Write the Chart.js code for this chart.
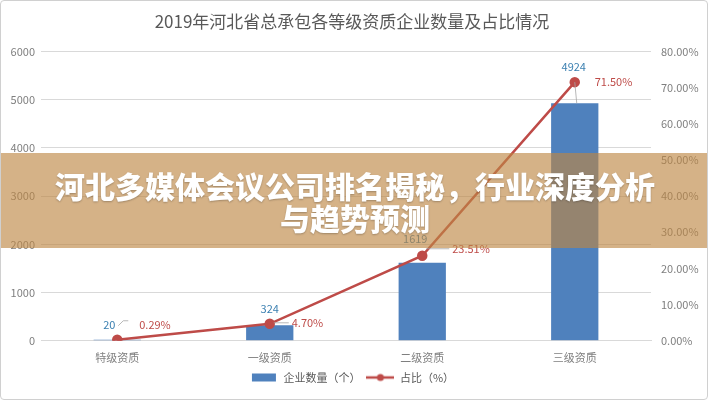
<!DOCTYPE html>
<html>
<head>
<meta charset="utf-8">
<script src="https://cdn.jsdelivr.net/npm/chart.js@4"></script>
<style>
  html, body { margin: 0; padding: 0; background: #fff; }
  #wrap { position: relative; width: 708px; height: 400px; box-sizing: border-box; border: 1px solid #d0d0d0; border-radius: 4px; overflow: hidden; }
  #banner { position: absolute; left: 0; top: 152px; width: 708px; height: 95px; background: rgba(190, 135, 68, 0.64);
    display: flex; align-items: center; justify-content: center; text-align: center;
    color: #fff; font-family: "Noto Sans CJK SC", sans-serif; font-weight: 900; font-size: 30px; line-height: 32px;
    text-shadow: 0 1px 2px rgba(0,0,0,0.25); }
</style>
</head>
<body>
<div id="wrap">
  <canvas id="chart" width="706" height="398"></canvas>
  <div id="banner">河北多媒体会议公司排名揭秘，行业深度分析<br>与趋势预测</div>
</div>
<script>
const categories = ['特级资质', '一级资质', '二级资质', '三级资质'];
const companyCounts = [20, 324, 1619, 4924];
const sharePercent = [0.29, 4.70, 23.51, 71.50];

const barColor = '#4f81bd';
const lineColor = '#be4b48';
const cjk = '"Noto Sans CJK SC", sans-serif';

// little legend icons
function legendIcon(kind) {
    const c = document.createElement('canvas');
    c.width = 28; c.height = 10;
    const g = c.getContext('2d');
    if (kind === 'bar') {
        g.fillStyle = barColor;
        g.fillRect(2, 1, 24, 8);
    } else {
        g.strokeStyle = lineColor;
        g.lineWidth = 2.5;
        g.beginPath(); g.moveTo(0, 5); g.lineTo(28, 5); g.stroke();
        g.fillStyle = lineColor;
        g.beginPath(); g.arc(14, 5, 3.5, 0, Math.PI * 2); g.fill();
    }
    return c;
}

// value labels with small leader lines
const labelPlugin = {
    id: 'labels',
    afterDatasetsDraw(chart) {
        const ctx = chart.ctx;
        const bars = chart.getDatasetMeta(1).data;
        const pts = chart.getDatasetMeta(0).data;
        ctx.save();
        ctx.font = '11px ' + cjk;
        ctx.textBaseline = 'middle';
        const barOff = [[-8, -15], [0, -15], [-7, -17], [-1, -15]];
        const lineOff = [[22, -15], [22, -1], [30, -7], [20, 0]];
        bars.forEach((b, i) => {
            const p = pts[i];
            // count label
            ctx.fillStyle = '#3a7fb0';
            ctx.textAlign = 'center';
            const bx = p.x + barOff[i][0];
            const by = Math.min(b.y, p.y) + barOff[i][1];
            ctx.fillText(String(companyCounts[i]), bx, by);
            // share label
            ctx.fillStyle = '#be4b48';
            ctx.textAlign = 'left';
            const lx = p.x + lineOff[i][0];
            const ly = p.y + lineOff[i][1];
            ctx.fillText(sharePercent[i].toFixed(2) + '%', lx, ly);
            ctx.strokeStyle = '#a6a6a6';
            ctx.lineWidth = 0.8;
            ctx.beginPath();
            if (i === 0) {
                ctx.moveTo(bx + 9, by + 1); ctx.lineTo(bx + 14, by - 4); ctx.lineTo(bx + 19, by - 4);
            } else if (i === 3) {
                ctx.moveTo(p.x, p.y); ctx.lineTo(p.x + 2, b.y);
            } else {
                ctx.moveTo(p.x + 4, ly); ctx.lineTo(lx - 3, ly);
            }
            ctx.stroke();
        });
        ctx.restore();
    }
};

new Chart(document.getElementById('chart'), {
    data: {
        labels: categories,
        datasets: [
            {
                type: 'line',
                label: '占比（%）',
                data: sharePercent,
                yAxisID: 'y1',
                borderColor: lineColor,
                backgroundColor: lineColor,
                borderWidth: 2.5,
                pointRadius: 4,
                pointBackgroundColor: lineColor,
                tension: 0,
                order: 0
            },
            {
                type: 'bar',
                label: '企业数量（个）',
                data: companyCounts,
                yAxisID: 'y',
                backgroundColor: barColor,
                barPercentage: 0.62,
                categoryPercentage: 0.5,
                order: 1
            }
        ]
    },
    options: {
        responsive: false,
        animation: false,
        layout: { padding: { left: 0, right: 4, top: 0, bottom: 6 } },
        plugins: {
            title: {
                display: true,
                text: '2019年河北省总承包各等级资质企业数量及占比情况',
                color: '#595959',
                font: { family: cjk, size: 17, weight: 'normal' },
                padding: { top: 10, bottom: 20 }
            },
            legend: {
                position: 'bottom',
                reverse: true,
                labels: {
                    color: '#595959',
                    font: { family: cjk, size: 11 },
                    usePointStyle: true,
                    pointStyleWidth: 28,
                    boxHeight: 10,
                    padding: 6,
                    generateLabels(chart) {
                        return chart.data.datasets.map((ds, i) => ({
                            text: ds.label,
                            pointStyle: legendIcon(ds.type),
                            fillStyle: ds.backgroundColor,
                            strokeStyle: ds.borderColor,
                            lineWidth: 0,
                            hidden: false,
                            datasetIndex: i,
                            fontColor: '#595959'
                        }));
                    }
                }
            },
            tooltip: { enabled: false }
        },
        scales: {
            x: {
                grid: { display: false },
                border: { color: '#d9d9d9' },
                ticks: { color: '#7f7f7f', font: { family: cjk, size: 11 }, padding: 2 }
            },
            y: {
                position: 'left',
                min: 0, max: 6000,
                ticks: {
                    stepSize: 1000, color: '#7f7f7f', font: { family: cjk, size: 11 }, padding: 6,
                    callback: v => String(v)
                },
                grid: { color: '#d9d9d9', drawTicks: false },
                border: { display: false },
                afterFit(s) { s.width = 40; }
            },
            y1: {
                position: 'right',
                min: 0, max: 80,
                ticks: {
                    stepSize: 10, color: '#7f7f7f', font: { family: cjk, size: 11 }, padding: 10,
                    callback: v => v.toFixed(2) + '%'
                },
                grid: { display: false, drawTicks: false },
                border: { display: false },
                afterFit(s) { s.width = 52; }
            }
        }
    },
    plugins: [labelPlugin]
});
</script>
</body>
</html>
